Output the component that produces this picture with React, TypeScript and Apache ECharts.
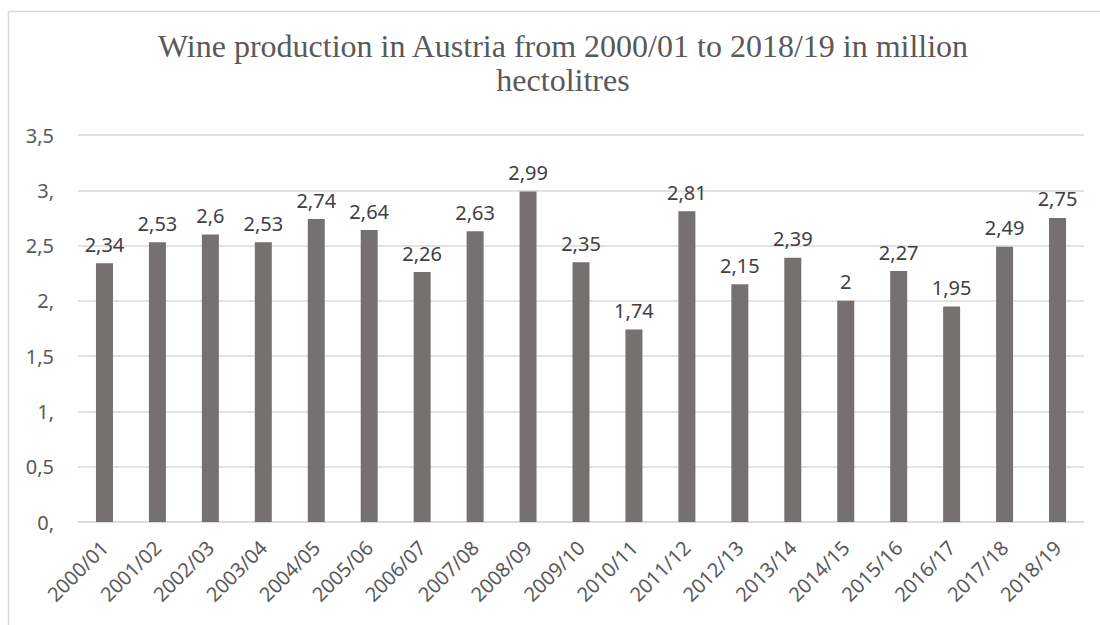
import React, { useEffect, useRef } from "react";
import * as echarts from "echarts";

const categories = ["2000/01","2001/02","2002/03","2003/04","2004/05","2005/06","2006/07","2007/08","2008/09","2009/10","2010/11","2011/12","2012/13","2013/14","2014/15","2015/16","2016/17","2017/18","2018/19"];
const production = [2.34,2.53,2.6,2.53,2.74,2.64,2.26,2.63,2.99,2.35,1.74,2.81,2.15,2.39,2,2.27,1.95,2.49,2.75];
const titleText = "Wine production in Austria from 2000/01 to 2018/19 in million\nhectolitres";

const fmtAxis = (v: number) => (Number.isInteger(v) ? `${v},` : String(v).replace(".", ","));
const fmtLabel = (v: number) => String(v).replace(".", ",");

export default function App() {
  const ref = useRef<HTMLDivElement>(null);
  useEffect(() => {
    if (!ref.current) return;
    const chart = echarts.init(ref.current, undefined, { renderer: "svg" });
    const font = "'Noto Sans', sans-serif";
    chart.setOption({
      animation: false,
      backgroundColor: "#ffffff",
      title: {
        text: titleText,
        left: 558,
        top: 24,
        textAlign: "center",
        textStyle: {
          fontFamily: "'Liberation Serif', serif",
          fontSize: 32,
          fontWeight: "normal",
          color: "#595959",
          lineHeight: 34,
        },
      },
      graphic: [
        { type: "line", shape: { x1: 8.5, y1: 11.5, x2: 1100, y2: 11.5 }, style: { stroke: "#d9d9d9", lineWidth: 1.5 } },
        { type: "line", shape: { x1: 8.5, y1: 11.5, x2: 8.5, y2: 625 }, style: { stroke: "#d9d9d9", lineWidth: 1.5 } },
      ],
      grid: { left: 78, right: 16, top: 135, bottom: 103, containLabel: false },
      xAxis: {
        type: "category",
        data: categories,
        axisLine: { show: true, lineStyle: { color: "#d9d9d9", width: 1.5 } },
        axisTick: { show: false },
        axisLabel: {
          rotate: 45,
          interval: 0,
          margin: 22,
          fontFamily: font,
          fontSize: 20,
          color: "#595959",
        },
      },
      yAxis: {
        type: "value",
        min: 0,
        max: 3.5,
        interval: 0.5,
        axisLine: { show: false },
        axisTick: { show: false },
        splitLine: { lineStyle: { color: "#d9d9d9", width: 1.5 } },
        axisLabel: {
          formatter: fmtAxis,
          margin: 24,
          fontFamily: font,
          fontSize: 20,
          color: "#595959",
        },
      },
      series: [
        {
          type: "bar",
          data: production,
          barWidth: 17,
          itemStyle: { color: "#767171" },
          label: {
            show: true,
            position: "top",
            distance: 9,
            formatter: (p: any) => fmtLabel(p.value),
            fontFamily: font,
            fontSize: 20,
            color: "#404040",
          },
        },
      ],
    });
    return () => chart.dispose();
  }, []);
  return <div ref={ref} style={{ position: "absolute", left: 0, top: 0, width: 1100, height: 625 }} />;
}
